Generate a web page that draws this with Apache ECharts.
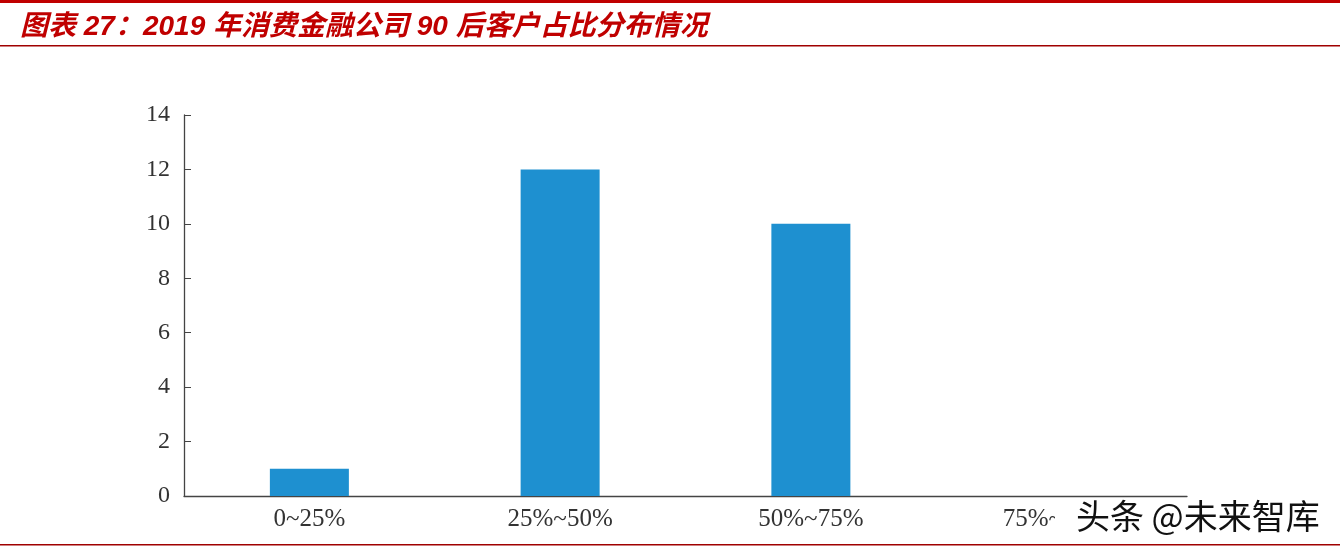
<!DOCTYPE html>
<html><head><meta charset="utf-8">
<script src="https://cdn.jsdelivr.net/npm/echarts@6/dist/echarts.min.js"></script>
<style>html,body{margin:0;padding:0;background:#fff}#c{width:1340px;height:550px}</style>
</head><body><div id="c"></div>
<script>
const categories = ['0~25%', '25%~50%', '50%~75%', '75%~100%'];
const values = [1, 12, 10, 0];
const yTicks = [0, 2, 4, 6, 8, 10, 12, 14];
const titleText = '图表 27：2019 年消费金融公司 90 后客户占比分布情况';
const watermark = '头条 @未来智库';

const chart = echarts.init(document.getElementById('c'));
chart.setOption({
  animation: false,
  backgroundColor: '#fff',
  grid: { left: 184, right: 153, top: 115, bottom: 54 },
  xAxis: {
    type: 'category', data: categories,
    axisLine: { lineStyle: { color: '#444', width: 1.3 } },
    axisTick: { inside: true, length: 5, lineStyle: { color: '#444' } },
    axisLabel: { fontFamily: 'Liberation Serif, Times New Roman, serif', fontSize: 25, color: '#333', margin: 11 }
  },
  yAxis: {
    type: 'value', min: yTicks[0], max: yTicks[yTicks.length - 1], interval: 2,
    splitLine: { show: false },
    axisLine: { show: true, lineStyle: { color: '#444', width: 1.3 } },
    axisTick: { show: true, inside: true, length: 7, lineStyle: { color: '#444' } },
    axisLabel: { fontFamily: 'Liberation Serif, Times New Roman, serif', fontSize: 24, color: '#333', margin: 14 }
  },
  series: [{
    type: 'bar', data: values, barWidth: 79,
    itemStyle: { color: '#1E90D0' }
  }],
  graphic: [
    { type: 'rect', shape: { x: 0, y: 0, width: 1340, height: 3 }, style: { fill: '#C00000' } },
    { type: 'text', left: 20, top: 13, style: { text: titleText, fill: '#C00000', font: 'italic bold 28px "Liberation Sans", Arial, "Noto Sans CJK SC", sans-serif' } },
    { type: 'rect', shape: { x: 0, y: 45, width: 1340, height: 1.5 }, style: { fill: '#A00000' } },
    { type: 'rect', shape: { x: 0, y: 544, width: 1340, height: 1.5 }, style: { fill: '#A00000' } },
    { type: 'text', left: 1055, top: 498, z: 100, style: { text: watermark, fill: '#111', stroke: '#fff', lineWidth: 3, backgroundColor: '#fff', padding: [0, 0, 0, 21], font: '34px "Noto Sans CJK SC", sans-serif' } }
  ]
});
</script></body></html>
